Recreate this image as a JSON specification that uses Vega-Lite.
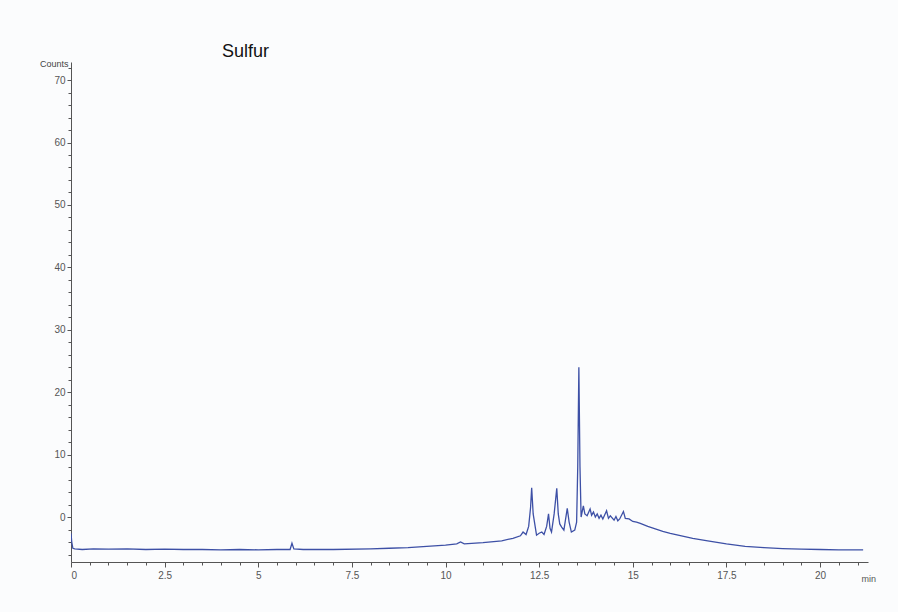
{
  "$schema": "https://vega.github.io/schema/vega-lite/v6.json",
  "autosize": "none",
  "padding": {"left": 71, "top": 62, "right": 30, "bottom": 50},
  "width": 797,
  "height": 500,
  "background": "#fbfcfd",
  "title": {"text": "Sulfur", "anchor": "start", "frame": "group", "dx": 151, "offset": -2, "fontSize": 18, "font": "Liberation Sans", "fontWeight": "normal", "color": "#111111"},
  "config": {"view": {"stroke": null}},
  "data": {"values": [
    {"t": 0.0, "c": -2.6}, {"t": 0.02, "c": -4.0}, {"t": 0.05, "c": -5.0}, {"t": 0.1, "c": -5.1}, {"t": 0.3, "c": -5.2}, {"t": 0.6, "c": -5.1}, {"t": 1.0, "c": -5.15}, {"t": 1.5, "c": -5.1}, {"t": 2.0, "c": -5.2}, {"t": 2.5, "c": -5.15}, {"t": 3.0, "c": -5.2}, {"t": 3.5, "c": -5.2}, {"t": 4.0, "c": -5.25}, {"t": 4.5, "c": -5.2}, {"t": 5.0, "c": -5.25}, {"t": 5.5, "c": -5.2}, {"t": 5.85, "c": -5.2}, {"t": 5.9, "c": -4.2}, {"t": 5.95, "c": -5.1}, {"t": 6.2, "c": -5.2}, {"t": 7.0, "c": -5.2}, {"t": 8.0, "c": -5.1}, {"t": 8.5, "c": -5.0}, {"t": 9.0, "c": -4.9}, {"t": 9.5, "c": -4.7}, {"t": 10.0, "c": -4.5}, {"t": 10.3, "c": -4.3}, {"t": 10.4, "c": -4.0}, {"t": 10.5, "c": -4.3}, {"t": 11.0, "c": -4.1}, {"t": 11.5, "c": -3.8}, {"t": 11.8, "c": -3.4}, {"t": 12.0, "c": -3.0}, {"t": 12.07, "c": -2.4}, {"t": 12.15, "c": -2.8}, {"t": 12.22, "c": -1.5}, {"t": 12.27, "c": 1.5}, {"t": 12.3, "c": 4.7}, {"t": 12.34, "c": 0.5}, {"t": 12.43, "c": -2.9}, {"t": 12.5, "c": -2.6}, {"t": 12.57, "c": -2.4}, {"t": 12.63, "c": -2.8}, {"t": 12.7, "c": -1.5}, {"t": 12.75, "c": 0.5}, {"t": 12.79, "c": -1.8}, {"t": 12.83, "c": -2.4}, {"t": 12.9, "c": 0.5}, {"t": 12.97, "c": 4.6}, {"t": 13.01, "c": 0.5}, {"t": 13.05, "c": -1.1}, {"t": 13.1, "c": -1.6}, {"t": 13.16, "c": -2.1}, {"t": 13.25, "c": 1.4}, {"t": 13.3, "c": -0.8}, {"t": 13.36, "c": -2.4}, {"t": 13.45, "c": -2.1}, {"t": 13.5, "c": -0.8}, {"t": 13.53, "c": 8.0}, {"t": 13.56, "c": 24.0}, {"t": 13.59, "c": 8.0}, {"t": 13.62, "c": 0.0}, {"t": 13.68, "c": 1.8}, {"t": 13.72, "c": 0.5}, {"t": 13.78, "c": 0.2}, {"t": 13.86, "c": 1.3}, {"t": 13.9, "c": 0.3}, {"t": 13.95, "c": 0.8}, {"t": 14.0, "c": 0.0}, {"t": 14.05, "c": 0.5}, {"t": 14.1, "c": -0.2}, {"t": 14.15, "c": 0.3}, {"t": 14.2, "c": -0.3}, {"t": 14.3, "c": 1.0}, {"t": 14.35, "c": -0.2}, {"t": 14.4, "c": 0.2}, {"t": 14.5, "c": -0.5}, {"t": 14.55, "c": 0.1}, {"t": 14.6, "c": -0.6}, {"t": 14.65, "c": -0.3}, {"t": 14.75, "c": 0.9}, {"t": 14.8, "c": -0.2}, {"t": 14.9, "c": -0.3}, {"t": 15.0, "c": -0.7}, {"t": 15.1, "c": -0.8}, {"t": 15.2, "c": -1.0}, {"t": 15.4, "c": -1.5}, {"t": 15.6, "c": -1.9}, {"t": 15.8, "c": -2.3}, {"t": 16.0, "c": -2.6}, {"t": 16.3, "c": -3.0}, {"t": 16.6, "c": -3.4}, {"t": 17.0, "c": -3.8}, {"t": 17.5, "c": -4.3}, {"t": 18.0, "c": -4.7}, {"t": 18.5, "c": -4.9}, {"t": 19.0, "c": -5.05}, {"t": 19.5, "c": -5.15}, {"t": 20.0, "c": -5.2}, {"t": 20.5, "c": -5.25}, {"t": 21.15, "c": -5.25}
  ]},
  "mark": {"type": "line", "color": "#3d50a6", "strokeWidth": 1.3, "interpolate": "linear", "clip": true},
  "encoding": {
    "x": {"field": "t", "type": "quantitative",
      "scale": {"domain": [0, 21.28], "nice": false, "zero": false},
      "axis": {
        "values": [0, 0.5, 1, 1.5, 2, 2.5, 3, 3.5, 4, 4.5, 5, 5.5, 6, 6.5, 7, 7.5, 8, 8.5, 9, 9.5, 10, 10.5, 11, 11.5, 12, 12.5, 13, 13.5, 14, 14.5, 15, 15.5, 16, 16.5, 17, 17.5, 18, 18.5, 19, 19.5, 20, 20.5, 21],
        "labelExpr": "datum.value % 2.5 === 0 ? (datum.value % 1 === 0 ? format(datum.value, 'd') : format(datum.value, '.1f')) : ''",
        "tickSize": {"condition": {"test": "datum.value % 2.5 === 0", "value": 5}, "value": 3},
        "grid": false, "domainColor": "#555555", "tickColor": "#555555",
        "labelFont": "Liberation Sans", "labelFontSize": 10, "labelColor": "#555555", "labelPadding": 3,
        "title": "min", "titleFont": "Liberation Sans", "titleFontSize": 9, "titleFontWeight": "normal", "titleColor": "#555555",
        "titleX": 790, "titleY": 12, "titleAlign": "left", "titleBaseline": "top"
      }},
    "y": {"field": "c", "type": "quantitative",
      "scale": {"domain": [-7.2, 72.9], "nice": false, "zero": false},
      "axis": {
        "values": [-6, -4, -2, 0, 2, 4, 6, 8, 10, 12, 14, 16, 18, 20, 22, 24, 26, 28, 30, 32, 34, 36, 38, 40, 42, 44, 46, 48, 50, 52, 54, 56, 58, 60, 62, 64, 66, 68, 70, 72],
        "labelExpr": "datum.value % 10 === 0 ? format(datum.value, 'd') : ''",
        "tickSize": {"condition": {"test": "datum.value % 10 === 0", "value": 4}, "value": 3},
        "grid": false, "domainColor": "#555555", "tickColor": "#555555",
        "labelFont": "Liberation Sans", "labelFontSize": 10, "labelColor": "#555555", "labelPadding": 2,
        "title": "Counts", "titleAngle": 0, "titleFont": "Liberation Sans", "titleFontSize": 9, "titleFontWeight": "normal", "titleColor": "#444444",
        "titleX": -3, "titleY": 1, "titleAlign": "right", "titleBaseline": "middle"
      }}
  }
}
